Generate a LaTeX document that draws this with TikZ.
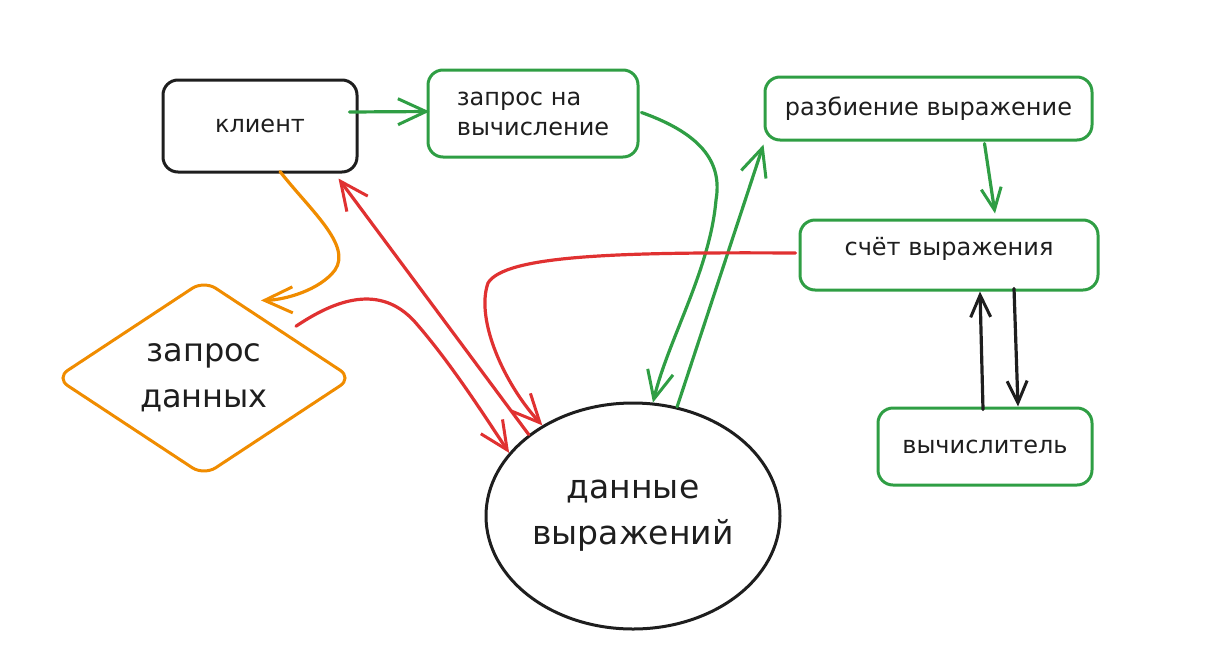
\documentclass[tikz,border=0pt]{standalone}
\usepackage{fontspec}
\setmainfont{DejaVu Sans}
\usetikzlibrary{shapes.geometric,arrows.meta,calc}
\definecolor{exgreen}{HTML}{2F9E44}
\definecolor{exred}{HTML}{E03131}
\definecolor{exorange}{HTML}{F08C00}
\definecolor{exblack}{HTML}{1E1E1E}
\tikzset{
  box/.style={draw, rounded corners=15pt, line width=3pt, inner sep=0pt, text=exblack, font=\fontsize{24}{30}\selectfont},
  gbox/.style={box, draw=exgreen},
  kbox/.style={box, draw=exblack},
  conn/.style={line width=3.2pt, line cap=round, line join=round, -{Straight Barb[length=28pt,width=26pt,line width=3pt]}},
  connb/.style={line width=3.2pt, line cap=round, line join=round, {Straight Barb[length=28pt,width=26pt,line width=3pt]}-},
  smallhead/.style={-{Straight Barb[length=22pt,width=20pt,line width=3pt]}},
}
\begin{document}
\begin{tikzpicture}[x=1pt,y=-1pt]
\useasboundingbox (0,0) rectangle (1212,654);
% nodes
\node[kbox, minimum width=194pt, minimum height=92pt] (kl) at (260,126) {клиент};
\node[gbox, minimum width=210pt, minimum height=87pt, align=left] (zv) at (533,113.5) {запрос на\\вычисление};
\node[gbox, minimum width=327pt, minimum height=63pt] (rv) at (928.5,108.5) {разбиение выражение};
\node[gbox, minimum width=298pt, minimum height=70pt, text depth=18pt] (sv) at (949,255) {счёт выражения};
\node[gbox, minimum width=214pt, minimum height=77pt] (vy) at (985,446.5) {вычислитель};
\node[draw=exorange, line width=3pt, diamond, rounded corners=14pt, inner sep=0pt,
      minimum width=297pt, minimum height=178pt, align=center, text=exblack,
      font=\fontsize{32}{46}\selectfont] (zd) at (204,378) {запрос\\данных};
\node[draw=exblack, line width=3pt, ellipse, inner sep=0pt, minimum width=294pt,
      minimum height=226pt, align=center, text=exblack,
      font=\fontsize{33}{46}\selectfont] (dv) at (633,516) {данные\\выражений};
% connectors
\draw[conn, exgreen] ([xshift=-9pt,yshift=14pt]kl.east) -- ([xshift=3pt,yshift=2pt]zv.west);
\draw[conn, exgreen] ([xshift=2pt,yshift=1pt]zv.east) .. controls (705,135) and (722,165) .. (716,200)
   .. controls (710,270) and (668,340) .. (dv.80);
\draw[conn, exgreen] (dv.68) -- ([yshift=-3pt]rv.south west);
\draw[conn, exgreen, smallhead] ([xshift=56pt,yshift=-2pt]rv.south) -- ([xshift=46pt,yshift=5pt]sv.north);
\draw[conn, exred] ([xshift=-3pt,yshift=2pt]sv.west) .. controls (620,252) and (505,255) .. (488,283)
   .. controls (475,320) and (505,385) .. (dv.135);
\draw[connb, exred] ([xshift=-20pt,yshift=-5pt]kl.south east) -- (dv.142);
\draw[conn, exred] ([xshift=17pt,yshift=2pt]zd.north east) .. controls (335,300) and (380,283) .. (415,322)
   .. controls (450,362) and (482,412) .. (dv.153);
\draw[conn, exorange] ([xshift=20pt,yshift=2pt]kl.south) .. controls (310,210) and (352,245) .. (335,270)
   .. controls (320,290) and (285,300) .. ([xshift=57pt,yshift=-22pt]zd.north);
\draw[conn, exblack, smallhead] ([xshift=-2pt,yshift=-3pt]vy.north) -- ([xshift=31pt]sv.south);
\draw[conn, exblack, smallhead] ([xshift=65pt,yshift=3pt]sv.south) -- ([xshift=33pt]vy.north);
\end{tikzpicture}
\end{document}
